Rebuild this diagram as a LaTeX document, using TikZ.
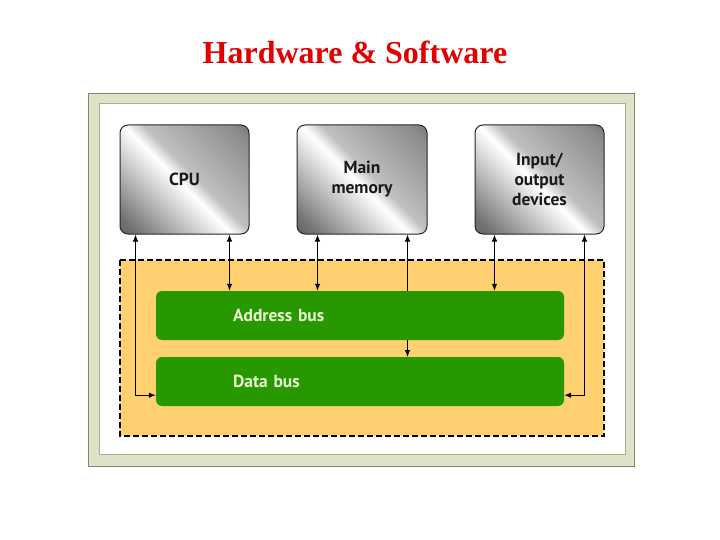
\documentclass[tikz,border=0pt]{standalone}
\usepackage{fontspec}
\setmainfont{Liberation Serif}
\newfontfamily\boxfont{PT Sans}
\usetikzlibrary{arrows.meta,calc}
\definecolor{framefill}{RGB}{221,227,199}
\definecolor{frameline}{RGB}{130,136,118}
\definecolor{busfill}{RGB}{40,152,0}
\definecolor{regionfill}{RGB}{255,208,112}
\definecolor{bustext}{RGB}{232,246,210}
\definecolor{titlered}{RGB}{225,0,0}
\pgfdeclareverticalshading{metal}{100bp}{color(0bp)=(black!75); color(20bp)=(black!55); color(48bp)=(white); color(54bp)=(black!25); color(80bp)=(black!45); color(100bp)=(black!75)}
\tikzset{
  unitbox/.style={draw=black!85, line width=1pt, rounded corners=8pt, shading=metal, shading angle=-45,
    minimum width=129pt, minimum height=109pt, font=\boxfont\bfseries\fontsize{17.5}{20}\selectfont,
    text=black!90, align=center, inner sep=0pt},
  busbox/.style={fill=busfill, draw=none, rounded corners=6pt, minimum height=49pt,
    text width=254pt, inner xsep=77pt, inner ysep=0pt, align=left,
    font=\boxfont\bfseries\fontsize{17.5}{20}\selectfont, text=bustext},
  link/.style={line width=1pt, {Latex[length=7pt,width=5.5pt]}-{Latex[length=7pt,width=5.5pt]}},
}
\begin{document}
\begin{tikzpicture}[x=1pt,y=-1pt]
\useasboundingbox (0,0) rectangle (720,540);
\node[font=\bfseries\fontsize{32}{36}\selectfont, text=titlered] (title) at (355,52) {Hardware \& Software};
\draw[fill=framefill, draw=frameline, line width=1pt] (88,94) rectangle (634,466);
\draw[fill=white, draw=frameline!70, line width=1pt] (99,104) rectangle (625,454);
\draw[fill=regionfill, draw=black, line width=2pt, dash pattern=on 6pt off 3pt] (120,260) rectangle (604,436);
\node[unitbox] (cpu) at (184.5,179.5) {CPU};
\node[unitbox, minimum width=130pt] (mem) at (362,179.5) {Main\\memory};
\node[unitbox] (io) at (539.5,179.5) {Input/\\output\\devices};
% long connector behind the address bus
\draw[link] ($(mem.south east)+(-20,0)$) coordinate (m2) -- (m2 |- 0,357) coordinate (m2e);
\node[busbox] (addr) at (360,315.5) {Address bus};
\node[busbox] (data) at (360,381.5) {Data bus};
\draw[link] ($(cpu.south west)+(16,0)$) |- ($(data.south west)+(0,-11)$);
\draw[link] ($(cpu.south east)+(-20,0)$) coordinate (c2) -- (c2 |- addr.north);
\draw[link] ($(mem.south west)+(21,0)$) coordinate (m1) -- (m1 |- addr.north);
\draw[link] ($(io.south west)+(20,0)$) coordinate (i1) -- (i1 |- addr.north);
\draw[link] ($(io.south east)+(-20,0)$) |- ($(data.south east)+(0,-11)$);
\end{tikzpicture}
\end{document}
